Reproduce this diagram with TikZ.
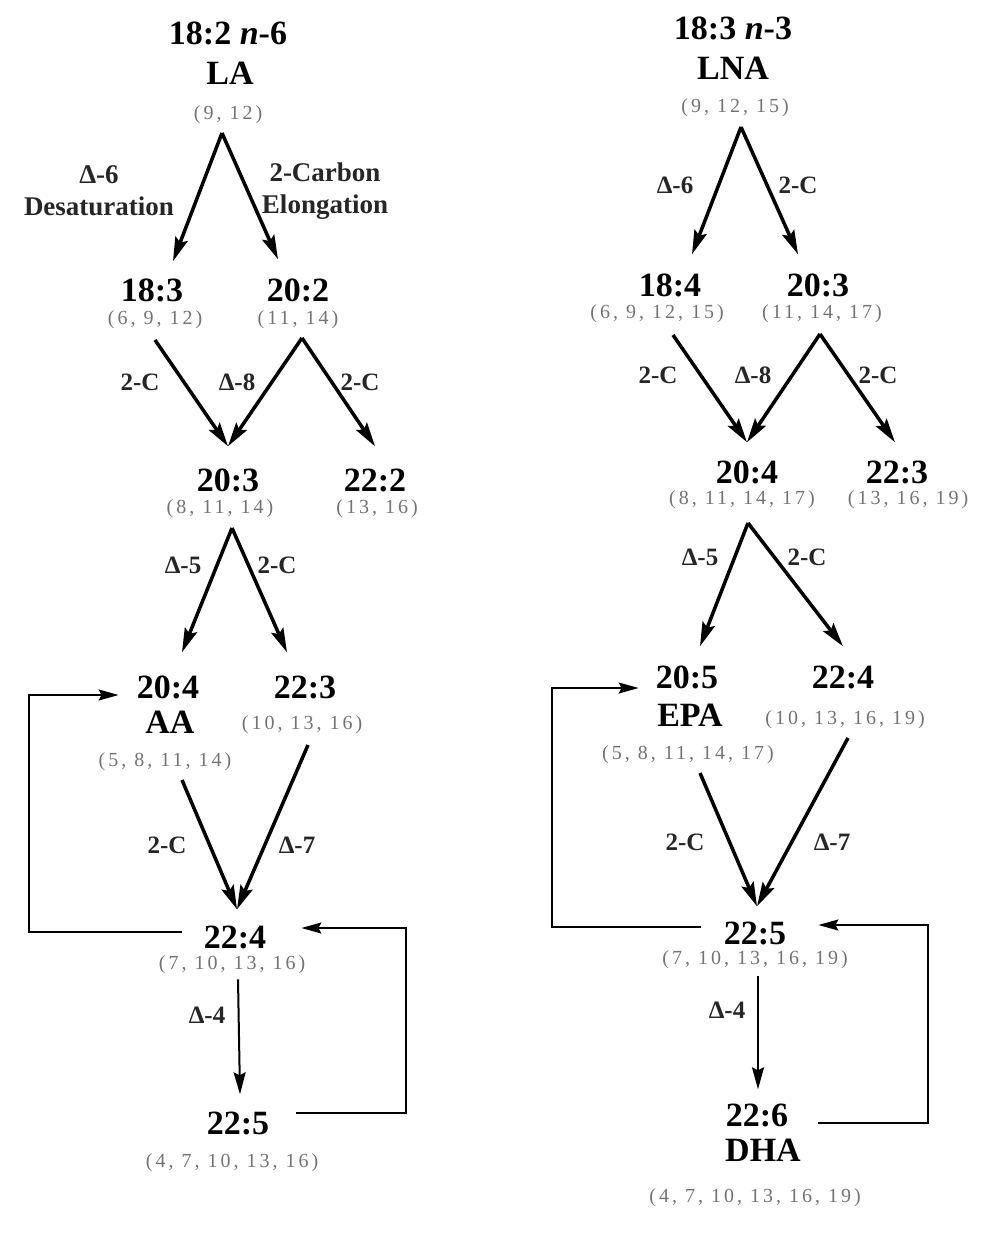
\documentclass[tikz,border=0pt]{standalone}
\usepackage{fontspec}
\setmainfont{Liberation Serif}
\newfontfamily\posfont[LetterSpace=15]{Liberation Serif}
\usetikzlibrary{arrows.meta,calc}

\tikzset{
  acid/.style={font=\bfseries\fontsize{34}{38}\selectfont, inner sep=0pt},
  bonds/.style={font=\posfont\fontsize{20}{22}\selectfont, text=black!55, inner sep=0pt},
  enz/.style={font=\bfseries\fontsize{25}{32}\selectfont, text=black!85, inner sep=0pt, align=center},
  conv/.style={line width=3.5pt, -{Stealth[length=24pt,width=13pt,inset=4pt]}},
  desat/.style={line width=2pt, -{Stealth[length=22pt,width=12pt,inset=3pt]}},
  recycle/.style={line width=2pt, -{Stealth[length=20pt,width=11pt,inset=3pt]}}
}

\begin{document}
\begin{tikzpicture}[x=1pt,y=1pt]
  \useasboundingbox (0,0) rectangle (983,-1255);

  % ---- n-6 series ----
  \node[acid] (la-name) at (228,-33) {18:2 \textit{n}-6};
  \node[acid] (la) at (230,-73) {LA};
  \node[bonds] (la-pos) at (228,-115) {(9, 12)};
  \coordinate (f1) at (222,-133);

  \node[acid] (l183) at (152,-290) {18:3};
  \node[bonds] (l183-pos) at (155,-320) {(6, 9, 12)};
  \node[acid] (l202) at (298,-290) {20:2};
  \node[bonds] (l202-pos) at (298,-320) {(11, 14)};
  \draw[conv] (f1) -- ([xshift=21pt,yshift=17pt]l183.north);
  \draw[conv] (f1) -- ([xshift=-20pt,yshift=19pt]l202.north);
  \node[enz, font=\bfseries\fontsize{27}{32}\selectfont] (d6-lbl) at (99,-191) {Δ-6\\Desaturation};
  \node[enz, font=\bfseries\fontsize{27}{32}\selectfont] (el-lbl) at (325,-191) {2-Carbon\\Elongation};

  % 20:3 and 22:2
  \coordinate (f2) at (155,-340);
  \coordinate (f3) at (302,-338);
  \node[acid] (l203) at (228,-480) {20:3};
  \node[bonds] (l203-pos) at (220,-509) {(8, 11, 14)};
  \node[acid] (l222) at (375,-480) {22:2};
  \node[bonds] (l222-pos) at (377,-509) {(13, 16)};
  \draw[conv] (f2) -- ([yshift=22pt]l203.north);
  \draw[conv] (f3) -- ([yshift=22pt]l203.north);
  \draw[conv] (f3) -- ([yshift=22pt]l222.north);
  \node[enz] at (140,-382) {2-C};
  \node[enz] at (237,-382) {Δ-8};
  \node[enz] at (360,-382) {2-C};

  % 20:4 (AA) and 22:3
  \coordinate (f4) at (232,-528);
  \node[acid] (l204) at (168,-687) {20:4};
  \node[acid] (aa) at (170,-722) {AA};
  \node[bonds] (l204-pos) at (165,-762) {(5, 8, 11, 14)};
  \node[acid] (l223) at (305,-687) {22:3};
  \node[bonds] (l223-pos) at (302,-725) {(10, 13, 16)};
  \draw[conv] (f4) -- ([xshift=14pt,yshift=23pt]l204.north);
  \draw[conv] (f4) -- ([xshift=-18pt,yshift=23pt]l223.north);
  \node[enz] at (183,-565) {Δ-5};
  \node[enz] at (277,-565) {2-C};

  % 22:4
  \coordinate (f5) at (182,-780);
  \coordinate (f6) at (308,-745);
  \node[acid] (l224) at (235,-937) {22:4};
  \node[bonds] (l224-pos) at (232,-965) {(7, 10, 13, 16)};
  \draw[conv] (f5) -- ([xshift=2pt,yshift=16pt]l224.north);
  \draw[conv] (f6) -- ([xshift=2pt,yshift=16pt]l224.north);
  \node[enz] at (167,-845) {2-C};
  \node[enz] at (297,-845) {Δ-7};

  % 22:5
  \node[acid] (l225) at (238,-1123) {22:5};
  \node[bonds] (l225-pos) at (232,-1163) {(4, 7, 10, 13, 16)};
  \draw[desat] ([xshift=6pt,yshift=-5pt]l224-pos.south) -- ([xshift=2pt,yshift=17pt]l225.north);
  \node[enz] at (207,-1015) {Δ-4};

  % retroconversion loops
  \draw[recycle] ([xshift=-22pt,yshift=5pt]l224.west) -- ++(-153,0) |- ([xshift=-18pt,yshift=-8pt]l204.west);
  \draw[recycle] ([xshift=27pt,yshift=10pt]l225.east) -- ++(110,0) |- ([xshift=35pt,yshift=9pt]l224.east);

  % ---- n-3 series ----
  \node[acid] (lna-name) at (733,-28) {18:3 \textit{n}-3};
  \node[acid] (lna) at (733,-68) {LNA};
  \node[bonds] (lna-pos) at (735,-108) {(9, 12, 15)};
  \coordinate (g1) at (741,-127);

  \node[acid] (r184) at (670,-285) {18:4};
  \node[bonds] (r184-pos) at (657,-314) {(6, 9, 12, 15)};
  \node[acid] (r203) at (818,-285) {20:3};
  \node[bonds] (r203-pos) at (822,-314) {(11, 14, 17)};
  \draw[conv] (g1) -- ([xshift=22pt,yshift=19pt]r184.north);
  \draw[conv] (g1) -- ([xshift=-20pt,yshift=19pt]r203.north);
  \node[enz] at (675,-185) {Δ-6};
  \node[enz] at (798,-185) {2-C};

  % 20:4 and 22:3
  \coordinate (g2) at (673,-335);
  \coordinate (g3) at (820,-334);
  \node[acid] (r204) at (747,-472) {20:4};
  \node[bonds] (r204-pos) at (742,-500) {(8, 11, 14, 17)};
  \node[acid] (r223) at (897,-472) {22:3};
  \node[bonds] (r223-pos) at (908,-500) {(13, 16, 19)};
  \draw[conv] (g2) -- ([yshift=18pt]r204.north);
  \draw[conv] (g3) -- ([yshift=18pt]r204.north);
  \draw[conv] (g3) -- ([xshift=-2pt,yshift=18pt]r223.north);
  \node[enz] at (658,-375) {2-C};
  \node[enz] at (753,-375) {Δ-8};
  \node[enz] at (878,-375) {2-C};

  % 20:5 (EPA) and 22:4
  \coordinate (g4) at (748,-523);
  \node[acid] (r205) at (687,-677) {20:5};
  \node[acid] (epa) at (690,-715) {EPA};
  \node[bonds] (r205-pos) at (688,-755) {(5, 8, 11, 14, 17)};
  \node[acid] (r224) at (843,-677) {22:4};
  \node[bonds] (r224-pos) at (845,-720) {(10, 13, 16, 19)};
  \draw[conv] (g4) -- ([xshift=13pt,yshift=19pt]r205.north);
  \draw[conv] (g4) -- ([yshift=19pt]r224.north);
  \node[enz] at (700,-557) {Δ-5};
  \node[enz] at (807,-557) {2-C};

  % 22:5
  \coordinate (g5) at (700,-773);
  \coordinate (g6) at (848,-738);
  \node[acid] (r225) at (755,-933) {22:5};
  \node[bonds] (r225-pos) at (755,-960) {(7, 10, 13, 16, 19)};
  \draw[conv] (g5) -- ([xshift=2pt,yshift=15pt]r225.north);
  \draw[conv] (g6) -- ([xshift=2pt,yshift=15pt]r225.north);
  \node[enz] at (685,-842) {2-C};
  \node[enz] at (832,-842) {Δ-7};

  % 22:6 (DHA)
  \node[acid] (r226) at (757,-1115) {22:6};
  \node[acid] (dha) at (763,-1150) {DHA};
  \node[bonds] (r226-pos) at (755,-1198) {(4, 7, 10, 13, 16, 19)};
  \draw[desat] ([xshift=3pt,yshift=-7pt]r225-pos.south) -- ([xshift=1pt,yshift=14pt]r226.north);
  \node[enz] at (727,-1010) {Δ-4};

  % retroconversion loops
  \draw[recycle] ([xshift=-23pt,yshift=6pt]r225.west) -- ++(-149,0) |- ([xshift=-17pt,yshift=-11pt]r205.west);
  \draw[recycle] ([xshift=30pt,yshift=-8pt]r226.east) -- ++(110,0) |- ([xshift=32pt,yshift=8pt]r225.east);
\end{tikzpicture}
\end{document}
